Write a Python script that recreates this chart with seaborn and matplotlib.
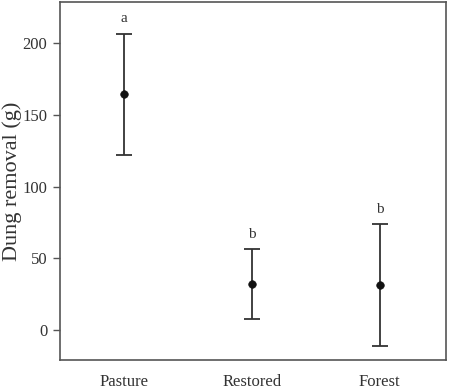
import pandas as pd
import matplotlib.pyplot as plt
import seaborn as sns

# values
habitats = ["Pasture", "Restored", "Forest"]
mean_removal = [164.6, 32.2, 31.0]
upper_ci = [206.8, 56.2, 73.7]
lower_ci = [122.2, 7.5, -11.2]
letters = ["a", "b", "b"]

df = pd.DataFrame({"Habitat": habitats, "Removal": mean_removal,
                   "Upper": upper_ci, "Lower": lower_ci, "Letter": letters})

sns.set_style("white")
plt.rcParams['font.family'] = ['Liberation Serif', 'DejaVu Serif']

fig = plt.figure(figsize=(4.51, 3.89), dpi=100)
ax = fig.add_axes([60 / 451, 29 / 389, 386 / 451, 358 / 389])

x = range(len(df))
ax.errorbar(x, df["Removal"],
            yerr=[df["Removal"] - df["Lower"], df["Upper"] - df["Removal"]],
            fmt="none", ecolor="#333333", elinewidth=1.3, capsize=6, capthick=1.3)
sns.scatterplot(data=df, x="Habitat", y="Removal", color="#111111", s=30,
                edgecolor="#111111", ax=ax, zorder=3)

# significance letters above the bars
for i, row in df.iterrows():
    ax.text(i, row["Upper"] + 6, row["Letter"], ha="center", va="bottom",
            fontsize=11, color="#333333")

ax.set_xlim(-0.5, 2.52)
ax.set_ylim(-21.2, 229)
ax.set_yticks([0, 50, 100, 150, 200])
ax.set_xlabel("")
ax.set_ylabel("Dung removal (g)", fontsize=16, color="#333333", labelpad=0)

ax.tick_params(axis="y", length=5, width=1, color="#555555", labelsize=12,
               labelcolor="#333333", left=True, direction="out", pad=4)
ax.tick_params(axis="x", length=0, labelsize=12, labelcolor="#333333", pad=10)

for sp in ax.spines.values():
    sp.set_color("#555555")
    sp.set_linewidth(1.2)

fig.savefig("out.png", dpi=100)
